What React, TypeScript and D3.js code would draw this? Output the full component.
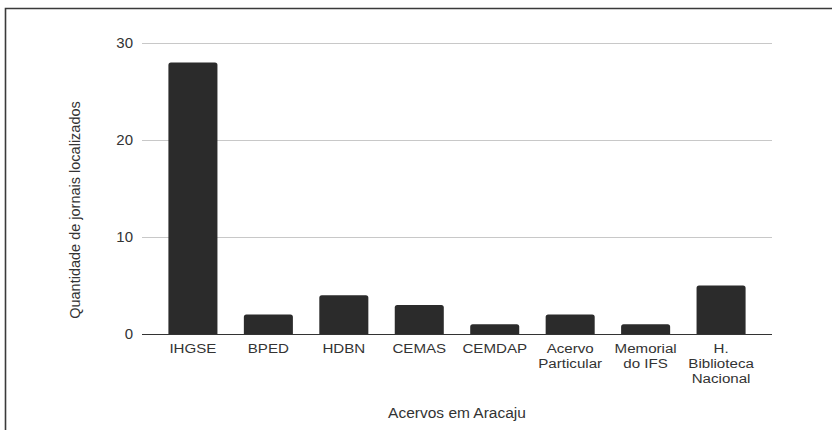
import { useEffect, useRef } from "react";
import * as d3 from "d3";

const CATEGORIES = [
  "IHGSE",
  "BPED",
  "HDBN",
  "CEMAS",
  "CEMDAP",
  "Acervo Particular",
  "Memorial do IFS",
  "H. Biblioteca Nacional",
];
// label lines as wrapped in the picture
const CATEGORY_LINES = [
  ["IHGSE"],
  ["BPED"],
  ["HDBN"],
  ["CEMAS"],
  ["CEMDAP"],
  ["Acervo", "Particular"],
  ["Memorial", "do IFS"],
  ["H.", "Biblioteca", "Nacional"],
];
const VALUES = [28, 2, 4, 3, 1, 2, 1, 5];
const Y_TICKS = [0, 10, 20, 30];

const Y_TITLE = "Quantidade de jornais localizados";
const X_TITLE = "Acervos em Aracaju";

const WIDTH = 832;
const HEIGHT = 430;
const MARGIN = { top: 43, right: 60, bottom: 96, left: 142 };
const FONT = "'Liberation Sans', Arial, sans-serif";

export default function App() {
  const svgRef = useRef<SVGSVGElement | null>(null);

  useEffect(() => {
    const svg = svgRef.current;
    if (!svg) return;
    svg.innerHTML = "";

    const innerW = WIDTH - MARGIN.left - MARGIN.right;
    const innerH = HEIGHT - MARGIN.top - MARGIN.bottom;

    const root = d3.select(svg).attr("width", WIDTH).attr("height", HEIGHT);

    // outer frame (cropped on the right and bottom)
    root
      .append("path")
      .attr("d", `M5.5,${HEIGHT + 2} V8.5 H${WIDTH + 2}`)
      .attr("fill", "none")
      .attr("stroke", "#3a3a3a")
      .attr("stroke-width", 1.6);

    const g = root
      .append("g")
      .attr("transform", `translate(${MARGIN.left},${MARGIN.top})`);

    const x = d3
      .scaleBand()
      .domain(CATEGORIES)
      .range([0, innerW])
      .paddingInner(0.35)
      .paddingOuter(0.35);

    const y = d3.scaleLinear().domain([0, 30]).range([innerH, 0]);

    // gridlines
    g.append("g")
      .selectAll("line")
      .data(Y_TICKS.filter((t) => t !== 0))
      .join("line")
      .attr("x1", 0)
      .attr("x2", innerW)
      .attr("y1", (t) => Math.round(y(t)) + 0.5)
      .attr("y2", (t) => Math.round(y(t)) + 0.5)
      .attr("stroke", "#c8c8c8")
      .attr("stroke-width", 1);

    // y tick labels
    g.append("g")
      .selectAll("text")
      .data(Y_TICKS)
      .join("text")
      .attr("x", -9)
      .attr("y", (t) => y(t))
      .attr("dy", "0.35em")
      .attr("text-anchor", "end")
      .attr("font-family", FONT)
      .attr("font-size", 15)
      .attr("fill", "#333")
      .text((t) => String(t));

    // bars with slightly rounded tops
    const r = 2.5;
    g.append("g")
      .selectAll("path")
      .data(VALUES)
      .join("path")
      .attr("fill", "#2b2b2b")
      .attr("d", (v, i) => {
        const x0 = x(CATEGORIES[i])!;
        const w = x.bandwidth();
        const y0 = y(v);
        const yb = y(0);
        return `M${x0},${yb} V${y0 + r} Q${x0},${y0} ${x0 + r},${y0} H${x0 + w - r} Q${x0 + w},${y0} ${x0 + w},${y0 + r} V${yb} Z`;
      });

    // baseline
    g.append("line")
      .attr("x1", 0)
      .attr("x2", innerW)
      .attr("y1", y(0) + 0.5)
      .attr("y2", y(0) + 0.5)
      .attr("stroke", "#333")
      .attr("stroke-width", 1.2);

    // x tick labels (the source text is a little stretched sideways)
    const xl = g
      .append("g")
      .selectAll("g")
      .data(CATEGORY_LINES)
      .join("g")
      .attr(
        "transform",
        (_, i) =>
          `translate(${x(CATEGORIES[i])! + x.bandwidth() / 2},${innerH + 19}) scale(1.12,1)`
      )
      .append("text")
      .attr("x", 0)
      .attr("y", 0)
      .attr("text-anchor", "middle")
      .attr("font-family", FONT)
      .attr("font-size", 13.5)
      .attr("fill", "#333");
    xl.each(function (lines) {
      const t = d3.select(this);
      lines.forEach((line, j) => {
        t.append("tspan")
          .attr("x", 0)
          .attr("dy", j === 0 ? 0 : 15)
          .text(line);
      });
    });

    // axis titles
    root
      .append("text")
      .attr("transform", `translate(80,210) rotate(-90)`)
      .attr("text-anchor", "middle")
      .attr("font-family", FONT)
      .attr("font-size", 14.5)
      .attr("fill", "#333")
      .text(Y_TITLE);

    root
      .append("text")
      .attr("x", MARGIN.left + innerW / 2)
      .attr("y", 418)
      .attr("text-anchor", "middle")
      .attr("font-family", FONT)
      .attr("font-size", 15.5)
      .attr("fill", "#333")
      .text(X_TITLE);
  }, []);

  return (
    <svg
      ref={svgRef}
      style={{ position: "absolute", left: 0, top: 0, background: "#fff" }}
      role="img"
      aria-label="Quantidade de jornais localizados por acervo"
    />
  );
}
